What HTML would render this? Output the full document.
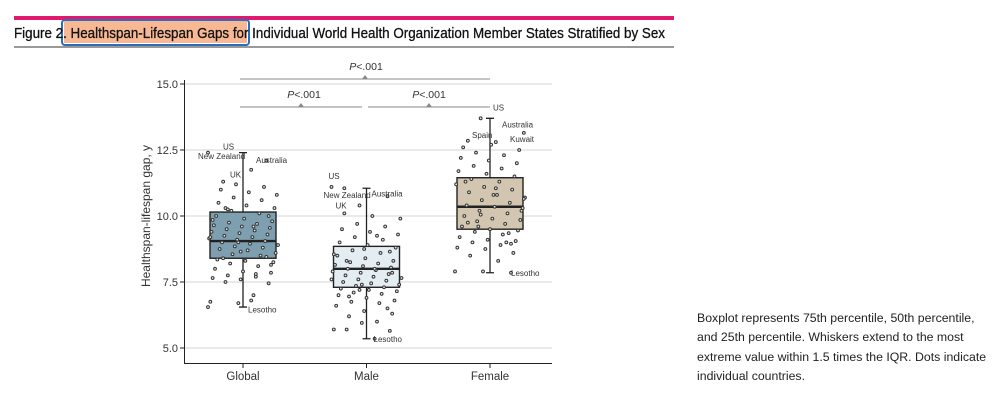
<!DOCTYPE html>
<html><head><meta charset="utf-8"><style>
html,body{margin:0;padding:0;background:#fff;width:1002px;height:403px;overflow:hidden;font-family:"Liberation Sans",sans-serif}
svg{position:absolute;left:0;top:0}
#note{position:absolute;left:697px;top:309px;width:300px;font-size:12.3px;line-height:19.3px;color:#222}
</style></head><body>
<svg id="chart" width="1002" height="403">
  <rect x="14" y="16" width="660" height="4" fill="#e0196e"/>
  <rect x="64" y="21" width="183" height="22" fill="#f8b894"/>
  <rect x="62" y="20" width="187" height="25" fill="none" stroke="#2a6ebb" stroke-width="2" rx="3"/>
  <text x="14" y="38" font-size="15" fill="#111" stroke="#111" stroke-width="0.3" textLength="651" lengthAdjust="spacingAndGlyphs">Figure 2. Healthspan-Lifespan Gaps for Individual World Health Organization Member States Stratified by Sex</text>
  <line x1="14" y1="47" x2="674" y2="47" stroke="#333" stroke-width="1"/>
  <g id="plot"></g>
</svg>
<div id="note">Boxplot represents 75th percentile, 50th percentile, and 25th percentile. Whiskers extend to the most extreme value within 1.5 times the IQR. Dots indicate individual countries.</div>
<script>
const categories=["Global","Male","Female"];
const q1=[8.4,7.3,9.5];
const medians=[9.05,8.0,10.35];
const q3=[10.15,8.85,11.45];
const whiskLo=[6.55,5.35,7.85];
const whiskHi=[12.4,11.05,13.7];
const boxFills=["#7d9fb0","#e4edf2","#d2c6b0"];
const yTicks=[5.0,7.5,10.0,12.5,15.0];
const globalPts=[12.4,11.75,11.3,12.1,6.7,6.75,7.0,7.5,7.45,7.6,7.65,7.8,7.75,7.85,7.9,8.0,8.1,8.2,8.25,8.3,8.35,8.5,8.55,8.6,8.7,8.75,8.8,8.85,8.9,8.95,9.0,9.05,9.1,9.15,9.2,9.25,9.3,9.35,9.4,9.45,9.5,9.55,9.6,9.65,9.7,9.75,9.8,9.9,10.0,10.1,10.2,10.3,10.4,10.5,10.6,10.7,10.8,10.9,11.0,11.1,11.2,6.55,6.8,8.4,8.45,9.0,9.2,9.6,10.3,10.0,8.65,9.85,7.7,10.25,8.15];
const malePts=[11.05,10.75,10.4,11.1,5.35,5.7,5.65,5.95,5.7,6.0,6.2,6.3,6.4,6.6,6.7,6.75,6.8,6.9,7.0,7.05,7.1,7.15,7.2,7.25,7.3,7.35,7.4,7.45,7.5,7.55,7.6,7.65,7.7,7.75,7.8,7.85,7.9,7.95,8.0,8.05,8.1,8.15,8.2,8.25,8.3,8.4,8.5,8.6,8.7,8.8,8.9,9.0,9.1,9.2,9.3,9.4,9.5,9.6,9.7,9.9,10.0,10.1,6.5,7.2,7.6,8.0,8.3,8.65,7.4,8.55,9.25,6.95,7.85,8.75];
const femalePts=[13.7,13.15,12.8,12.85,7.85,7.9,7.9,8.3,8.5,8.6,8.75,8.8,8.9,9.0,9.05,9.1,9.2,9.3,9.4,9.45,9.5,9.6,9.7,9.8,9.85,9.9,10.0,10.1,10.2,10.3,10.35,10.4,10.5,10.6,10.7,10.8,10.9,11.0,11.1,11.2,11.3,11.4,11.5,11.6,11.7,11.8,11.9,12.0,12.1,12.2,12.3,12.4,12.5,12.7,12.6,9.0,9.6,10.2,10.8,11.3,9.35,10.05,10.65,11.05,9.75,8.95];
const seriesPts=[globalPts,malePts,femalePts];
const pLabels=["P<.001","P<.001","P<.001"];

const NS="http://www.w3.org/2000/svg";
const g=document.getElementById("plot");
const y=v=>348-(v-5)*26.4;
const x=i=>243+i*123.5;
const HALF=33;
function mk(t,a,p){const e=document.createElementNS(NS,t);for(const k in a)e.setAttribute(k,a[k]);(p||g).appendChild(e);return e;}

yTicks.forEach(v=>{
  const l=mk("line",{x1:185,x2:552,y1:y(v),y2:y(v),stroke:"#d6d6d6","stroke-width":1});
  
  
  mk("line",{x1:180,x2:185,y1:y(v),y2:y(v),stroke:"#222"});
  const t=mk("text",{x:178,y:y(v)+4,"text-anchor":"end","font-size":11,fill:"#333"});
  t.textContent=v.toFixed(1);
  
  
});
const ax=mk("path",{d:"M184.5 80 V363.5 H552",fill:"none",stroke:"#222","stroke-width":1});


const yl=mk("text",{x:0,y:0,transform:"translate(150 216) rotate(-90)","text-anchor":"middle","font-size":12,fill:"#333"});
yl.textContent="Healthspan-lifespan gap, y";



categories.forEach((c,i)=>{
  const cx=x(i);
  mk("line",{x1:cx,x2:cx,y1:363,y2:368,stroke:"#222"});
  const t=mk("text",{x:cx,y:380,"text-anchor":"middle","font-size":11.5,fill:"#333"});
  t.textContent=c;
  
  
  const w=mk("path",{d:`M${cx} ${y(whiskLo[i])} V${y(whiskHi[i])} M${cx-4} ${y(whiskLo[i])} H${cx+4} M${cx-4} ${y(whiskHi[i])} H${cx+4}`,stroke:"#222","stroke-width":1.3,fill:"none"});
  
  
  const b=mk("rect",{x:cx-HALF,y:y(q3[i]),width:HALF*2,height:y(q1[i])-y(q3[i]),fill:boxFills[i],stroke:"#222","stroke-width":1.4});
  
  
  const m=mk("line",{x1:cx-HALF,x2:cx+HALF,y1:y(medians[i]),y2:y(medians[i]),stroke:"#222","stroke-width":2.4});
  
  
  seriesPts[i].forEach((v,j)=>{
    const jit=((j*37+i*11)%61)/30-1;
    const d=mk("circle",{cx:cx+jit*35,cy:y(v),r:1.4,fill:"#eee",stroke:"#333","stroke-width":1});
    
    
  });
});

const ann=[[0,"US",12.45,-20,-2],[0,"New Zealand",12.0,-45,-4],[0,"UK",11.35,-13,-3],[0,"Australia",12.0,13,0],[0,"Lesotho",6.45,5,3],
[1,"US",11.25,-38,-4],[1,"New Zealand",10.6,-43,-2],[1,"UK",10.4,-31,3],[1,"Australia",10.85,5,3],[1,"Lesotho",5.35,7,3],
[2,"US",14.0,3,0],[2,"Australia",13.35,12,0],[2,"Spain",12.95,-18,0],[2,"Kuwait",12.8,20,0],[2,"Lesotho",7.85,21,3]];
ann.forEach(a=>{
  const t=mk("text",{x:x(a[0])+a[3],y:y(a[2])+a[4],"font-size":8,fill:"#333"});
  t.textContent=a[1];
  
  
});

const br=[[240,490,79,366,70],[240,362,107,304,98],[368,490,107,429,98]];
br.forEach((b,k)=>{
  const l=mk("line",{x1:b[0],x2:b[1],y1:b[2],y2:b[2],stroke:"#888","stroke-width":1});
  
  
  const mx=(b[0]+b[1])/2;
  mk("path",{d:`M${mx-3} ${b[2]} L${mx} ${b[2]-4} L${mx+3} ${b[2]} Z`,fill:"#888"});
  const t=mk("text",{x:b[3],y:b[4],"text-anchor":"middle","font-size":10.5,fill:"#333"});
  t.innerHTML='<tspan font-style="italic">P</tspan>'+pLabels[k].slice(1).replace('<','&lt;');
  
  
});
</script>
</body></html>
